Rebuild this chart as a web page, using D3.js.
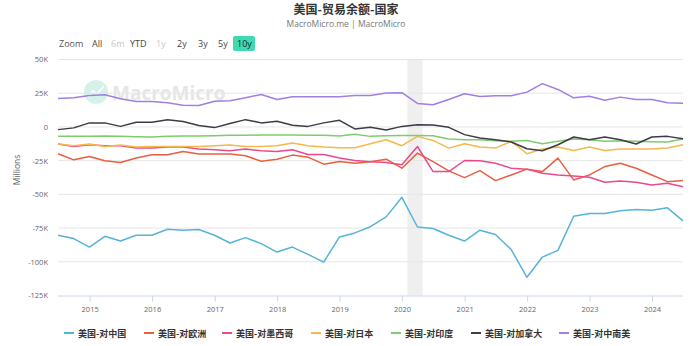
<!DOCTYPE html>
<html><head><meta charset="utf-8">
<script src="https://cdn.jsdelivr.net/npm/d3@7"></script>
<style>
body{margin:0;background:#fff;}
svg{display:block;font-family:"Open Sans","Noto Sans","Noto Sans CJK SC",sans-serif;}
</style></head>
<body><svg id="c" width="692" height="346"></svg>
<script>
const quarters = ["2014-06","2014-09","2014-12","2015-03","2015-06","2015-09","2015-12","2016-03","2016-06","2016-09","2016-12",
"2017-03","2017-06","2017-09","2017-12","2018-03","2018-06","2018-09","2018-12","2019-03","2019-06","2019-09","2019-12",
"2020-03","2020-06","2020-09","2020-12","2021-03","2021-06","2021-09","2021-12","2022-03","2022-06","2022-09","2022-12",
"2023-03","2023-06","2023-09","2023-12","2024-03","2024-06"];
const seriesNames = ["美国-对中国","美国-对欧洲","美国-对墨西哥","美国-对日本","美国-对印度","美国-对加拿大","美国-对中南美"];
const seriesColors = ["#55b4d8","#e8603f","#ea4a8c","#f5b84a","#7dcd6e","#3c3c46","#a07fe2"];
const china = [-80.3,-82.8,-89.1,-81.1,-84.6,-80.3,-80.3,-75.9,-76.6,-76.1,-80.3,-86.1,-82.1,-86.5,-92.8,-89.1,-94.5,-100.3,-81.6,-78.6,-74,
-66.7,-52.2,-74.2,-75.3,-80.3,-84.6,-76.6,-79.8,-91.0,-111.5,-96.5,-91.5,-66.2,-64.2,-64.2,-62.2,-61.2,-61.7,-60.0,-69.7];
const europe = [-19.9,-24.4,-21.9,-25.1,-26.4,-23.1,-20.7,-20.7,-18.2,-20.1,-20.1,-20.1,-21.4,-25.4,-23.9,-20.9,-22.4,-27.6,-25.7,-26.9,-25.8,
-23.9,-30.6,-19.4,-25.7,-32.6,-37.6,-32.4,-39.8,-35.6,-31.3,-33.1,-23.1,-39.3,-35.6,-29.4,-26.9,-30.6,-35.6,-40.6,-39.8];
const mexico = [-12.7,-14.5,-13.2,-13.9,-13.9,-15.7,-15.7,-14.9,-14.9,-16.4,-16.9,-17.7,-16.4,-17.7,-18.2,-16.9,-20.4,-20.4,-23.1,-24.9,-25.8,
-26.4,-28.1,-14.5,-33.1,-33.1,-24.9,-25.1,-26.9,-30.6,-31.3,-34.3,-35.6,-36.3,-37.3,-41.0,-40.1,-41.0,-43.0,-41.8,-44.3];
const japan = [-12.7,-13.9,-12.7,-14.5,-13.4,-14.9,-14.5,-14.5,-14.5,-14.5,-13.9,-13.4,-14.5,-14.5,-13.9,-11.9,-13.9,-14.9,-15.4,-15.4,-12.5,
-9.5,-13.9,-7.0,-10.0,-15.7,-12.5,-14.9,-15.7,-10.7,-19.9,-16.4,-14.9,-17.5,-14.9,-17.5,-16.4,-16.4,-16.4,-15.7,-13.2];
const india = [-7.0,-7.0,-7.0,-6.7,-7.0,-7.3,-7.5,-7.0,-6.7,-6.7,-6.5,-6.2,-6.2,-6.0,-6.0,-6.0,-6.2,-6.2,-6.7,-5.5,-7.0,
-6.5,-6.3,-6.3,-6.5,-9.0,-9.5,-9.5,-10.2,-10.7,-10.0,-12.5,-10.7,-9.0,-9.5,-10.7,-10.2,-10.7,-11.0,-11.2,-9.0];
const canada = [-2.0,-0.7,3.0,3.0,0.4,3.4,3.4,5.4,4.0,1.0,-0.5,2.5,5.4,3.0,4.2,1.2,0.4,3.0,4.9,-1.5,-0.2,
-2.2,0.4,1.7,1.5,-0.3,-5.7,-8.2,-9.5,-11.2,-16.2,-17.7,-13.2,-7.5,-9.5,-7.5,-9.5,-12.7,-7.5,-7.0,-8.7];
const latam = [21.1,21.6,23.3,23.9,20.9,18.9,18.9,17.9,16.1,15.9,19.1,19.4,21.6,24.1,20.4,22.4,22.4,22.4,22.4,23.3,23.3,
25.1,25.4,17.4,16.4,20.4,24.6,22.6,23.1,23.1,25.8,32.1,27.8,21.6,22.8,19.8,22.1,20.4,20.4,17.9,17.6];
const yTicks = [50000,25000,0,-25000,-50000,-75000,-100000,-125000];
const yTickLabels = ["50K","25K","0","-25K","-50K","-75K","-100K","-125K"];
const xTickYears = ["2015","2016","2017","2018","2019","2020","2021","2022","2023","2024"];
const recession = ["2020-02-01","2020-04-30"];
const zoomButtons = ["All","6m","YTD","1y","2y","3y","5y","10y"];
const disabledButtons = ["6m","1y"];
const activeButton = "10y";

const allSeries = [china,europe,mexico,japan,india,canada,latam];
const parseQ = d3.timeParse("%Y-%m");
const dates = quarters.map(q => d3.timeMonth.offset(parseQ(q), 1)).map(d => d3.timeDay.offset(d, -1));

const svg = d3.select("#c");
const L = 58, R = 683, T = 59.5, B = 295.5;
const x = d3.scaleTime().domain([dates[0], dates[dates.length-1]]).range([L, R]);
const y = d3.scaleLinear().domain([-125000, 50000]).range([B, T]);

// title
svg.append("text").attr("x",346).attr("y",14).attr("text-anchor","middle")
  .attr("font-family","'Noto Sans CJK SC',sans-serif").attr("font-weight","bold").attr("font-size",12).attr("fill","#333")
  .text("美国-贸易余额-国家");
svg.append("text").attr("x",346).attr("y",27).attr("text-anchor","middle")
  .attr("font-size",8.5).attr("fill","#777").text("MacroMicro.me | MacroMicro");

// zoom buttons
const btnX = {"All":92,"6m":111,"YTD":130,"1y":156,"2y":177,"3y":198,"5y":218,"10y":237};
svg.append("text").attr("x",59).attr("y",47).attr("font-size",9).attr("fill","#555").text("Zoom");
svg.append("rect").attr("x",233).attr("y",36).attr("width",22).attr("height",15).attr("rx",2).attr("fill","#3fdab4");
zoomButtons.forEach(b => {
  svg.append("text").attr("x",btnX[b]).attr("y",47).attr("font-size",9)
    .attr("fill", disabledButtons.includes(b) ? "#c8c8c8" : (b===activeButton ? "#222" : "#444"))
    .text(b);
});

// watermark
svg.append("circle").attr("cx",96).attr("cy",92).attr("r",12).attr("fill","#c9efe5").attr("opacity",0.8);
svg.append("path").attr("d","M88,97 L93,91 L97,94 L104,86").attr("stroke","#fff").attr("stroke-width",1.5).attr("fill","none");
svg.append("text").attr("x",112).attr("y",100).attr("font-size",19).attr("font-weight","bold")
  .attr("fill","#e4e4e4").attr("opacity",0.9).text("MacroMicro");

// recession band
svg.append("rect").attr("x",x(new Date(recession[0]))).attr("y",T)
  .attr("width",x(new Date(recession[1]))-x(new Date(recession[0]))).attr("height",B-T).attr("fill","#efefef");

// gridlines
svg.append("g").selectAll("line").data(yTicks.filter(v=>v>-125000)).join("line")
  .attr("x1",L).attr("x2",R).attr("y1",d=>y(d)).attr("y2",d=>y(d)).attr("stroke","#e6e6e6").attr("stroke-width",1);

// y axis
const yAxis = d3.axisLeft(y).tickValues(yTicks).tickFormat((d,i)=>yTickLabels[i]).tickSize(0).tickPadding(10);
const gy = svg.append("g").attr("transform",`translate(${L},0)`).call(yAxis);
gy.select(".domain").remove();
gy.selectAll("text").attr("font-size",7.5).attr("fill","#666").attr("font-family","'Open Sans',sans-serif");

svg.append("text").attr("transform","translate(20,170) rotate(-90)").attr("text-anchor","middle")
  .attr("font-size",8.5).attr("fill","#666").text("Millions");

// x axis
const xTickDates = xTickYears.map(s => new Date(+s, 0, 1));
const xAxis = d3.axisBottom(x).tickValues(xTickDates).tickFormat(d3.timeFormat("%Y")).tickSize(6).tickPadding(5);
const gx = svg.append("g").attr("transform",`translate(0,${B})`).call(xAxis);
gx.select(".domain").attr("stroke","#ccd6eb").attr("d",`M${L},0.5H${R}`);
gx.selectAll(".tick line").attr("stroke","#ccd6eb");
gx.selectAll("text").attr("font-size",7.5).attr("fill","#666").attr("font-family","'Open Sans',sans-serif");

// lines
const line = d3.line().x((d,i)=>x(dates[i])).y(d=>y(d*1000));
const order = [0,1,2,3,4,5,6];
order.forEach(i => {
  svg.append("path").datum(allSeries[i]).attr("d",line).attr("fill","none")
    .attr("stroke",seriesColors[i]).attr("stroke-width",1.5).attr("stroke-linejoin","round");
});

// legend
const legX = [64,144,222,311,391,471,559];
seriesNames.forEach((n,i) => {
  svg.append("line").attr("x1",legX[i]).attr("x2",legX[i]+10).attr("y1",333).attr("y2",333)
    .attr("stroke",seriesColors[i]).attr("stroke-width",2);
  svg.append("text").attr("x",legX[i]+14).attr("y",336.5).attr("font-size",9).attr("font-weight","bold")
    .attr("font-family","'Noto Sans CJK SC',sans-serif").attr("fill","#333").text(n);
});
</script></body></html>
